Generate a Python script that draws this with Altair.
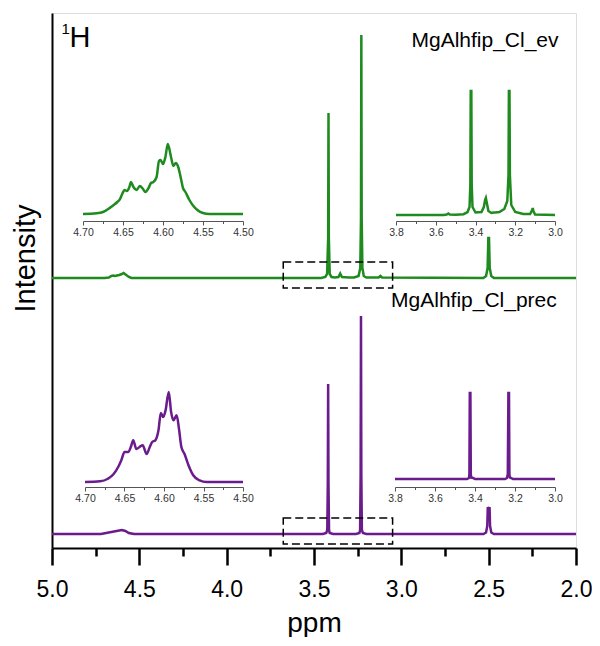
import altair as alt
import pandas as pd

GREEN = "#1f8b1f"
PURPLE = "#6a1b8c"
FONT = "Liberation Sans"

# ---------------- main spectra (intensity above own baseline) ----------------
ev_ppm = [5.0, 4.70, 4.675, 4.66, 4.65, 4.64, 4.615, 4.60, 4.59, 4.575, 4.56, 4.545,
          3.46, 3.435, 3.425, 3.419, 3.417, 3.415, 3.41, 3.40, 3.38, 3.36, 3.35, 3.34, 3.30,
          3.27, 3.245, 3.235, 3.231, 3.229, 3.227, 3.223, 3.215, 3.20, 3.13, 3.12, 3.11,
          2.53, 2.515, 2.506, 2.502, 2.498, 2.494, 2.485, 2.47, 2.0]
ev_int = [0, 0, 0.5, 2, 2.5, 2, 3, 4, 5, 3, 1, 0,
          0, 1, 4, 40, 165, 40, 4, 1, 0.5, 1, 4.5, 1, 0.5,
          0.5, 2, 10, 60, 243, 60, 10, 2, 0.5, 0.5, 2, 0.5,
          0, 2, 10, 40, 40, 10, 2, 0, 0]

prec_ppm = [5.0, 4.72, 4.69, 4.66, 4.63, 4.60, 4.58, 4.56, 4.53,
            3.45, 3.43, 3.424, 3.421, 3.419, 3.417, 3.414, 3.41, 3.39,
            3.26, 3.24, 3.236, 3.233, 3.231, 3.229, 3.226, 3.22, 3.20,
            2.53, 2.515, 2.508, 2.505, 2.500, 2.495, 2.492, 2.485, 2.47, 2.0]
prec_int = [0, 0, 1, 2, 3, 4, 3, 1, 0,
            0, 1, 4, 50, 150, 50, 4, 1, 0,
            0, 1, 4, 60, 218, 60, 4, 1, 0,
            0, 1.5, 8, 27, 20, 27, 8, 1.5, 0, 0]

# ---------------- inset: 4.70-4.50 multiplet ----------------
ev_mult_ppm = [4.700, 4.683, 4.675, 4.669, 4.662, 4.657, 4.654, 4.651, 4.648, 4.645, 4.642,
               4.640, 4.637, 4.633, 4.629, 4.625, 4.622, 4.618, 4.615, 4.612, 4.608, 4.605,
               4.603, 4.600, 4.597, 4.594, 4.590, 4.587, 4.584, 4.581, 4.578, 4.575, 4.572,
               4.567, 4.562, 4.557, 4.550, 4.542, 4.500]
ev_mult_int = [0, 0.7, 2, 4.7, 8.7, 12, 14.7, 20, 24, 23, 27,
               32, 27, 24, 28, 25, 22, 26, 31, 32, 37, 53,
               54, 50, 57, 70, 57, 48, 51, 47, 37, 26, 22,
               14, 8, 4, 1, 0, 0]

prec_mult_ppm = [4.700, 4.681, 4.671, 4.664, 4.658, 4.654, 4.650, 4.645, 4.642, 4.639, 4.635,
                 4.631, 4.627, 4.622, 4.618, 4.615, 4.611, 4.607, 4.604, 4.601, 4.598, 4.594,
                 4.591, 4.588, 4.584, 4.581, 4.578, 4.574, 4.569, 4.563, 4.555, 4.546, 4.500]
prec_mult_int = [0, 0.7, 3.3, 7.7, 15, 21.7, 30, 30, 35, 41.7, 33,
                 35, 36.7, 28, 35, 40, 41.7, 51.7, 69, 65, 71.7, 90,
                 70, 61.7, 66.7, 53, 35, 28, 16.7, 6.7, 1.7, 0, 0]

# ---------------- inset: 3.8-3.0 region ----------------
ev_zoom_ppm = [3.80, 3.56, 3.545, 3.537, 3.53, 3.50, 3.46, 3.44, 3.43, 3.426, 3.424, 3.421,
               3.419, 3.415, 3.40, 3.37, 3.358, 3.352, 3.348, 3.343, 3.335, 3.32, 3.31,
               3.30, 3.28, 3.255, 3.24, 3.234, 3.232, 3.229, 3.227, 3.22, 3.20, 3.16,
               3.125, 3.115, 3.112, 3.109, 3.10, 3.0]
ev_zoom_int = [0, 0, 0.5, 1.5, 0.5, 0.3, 0.8, 3, 8, 30, 124, 124,
               30, 8, 2.5, 3, 8, 15, 17, 12, 4, 2, 2.5,
               2.5, 3, 6, 14, 40, 124, 124, 40, 10, 3, 1,
               1, 5, 7, 4, 0.5, 0]

prec_zoom_ppm = [3.80, 3.44, 3.43, 3.428, 3.426, 3.423, 3.421, 3.419, 3.41, 3.40,
                 3.25, 3.24, 3.236, 3.233, 3.230, 3.228, 3.226, 3.22, 3.21, 3.0]
prec_zoom_int = [0, 0, 1, 5, 86, 86, 5, 1.5, 1, 0,
                 0, 1, 5, 86, 86, 5, 1.5, 1, 0, 0]

# tick values
main_ticks = [5.0, 4.75, 4.5, 4.25, 4.0, 3.75, 3.5, 3.25, 3.0, 2.75, 2.5, 2.25, 2.0]
mult_ticks = [4.70, 4.675, 4.65, 4.625, 4.60, 4.575, 4.55, 4.525, 4.50]
zoom_ticks = [3.8, 3.7, 3.6, 3.5, 3.4, 3.3, 3.2, 3.1, 3.0]

# zoom-region boxes (ppm span, intensity span relative to each baseline)
box_ppm = [3.676, 3.05]
box_int = [-10, 16]

samples = ["MgAlhfip_Cl_ev", "MgAlhfip_Cl_prec"]
baseline_expr = "datum.sample === 'MgAlhfip_Cl_ev' ? 270 : 14"

main_df = pd.concat([
    pd.DataFrame({"ppm": ev_ppm, "intensity": ev_int, "sample": samples[0]}),
    pd.DataFrame({"ppm": prec_ppm, "intensity": prec_int, "sample": samples[1]}),
])
box_df = pd.DataFrame({"sample": samples, "x1": box_ppm[0], "x2": box_ppm[1],
                       "i1": box_int[0], "i2": box_int[1]})

label_df = pd.DataFrame({"text": samples, "ppm": [2.10, 2.11], "y": [501, 241]})
nuc1_df = pd.DataFrame({"text": ["1"], "ppm": [4.945], "y": [514]})
nuc2_df = pd.DataFrame({"text": ["H"], "ppm": [4.900], "y": [501]})

major_main = "abs(datum.value*2 - round(datum.value*2)) < 0.01"

x_main = alt.Scale(domain=[5.0, 2.0], nice=False, zero=False)
y_main = alt.Scale(domain=[0, 535], nice=False, zero=False)

x_axis = alt.Axis(
    title="ppm", values=main_ticks,
    labelExpr=f"{major_main} ? format(datum.value, '.1f') : ''",
    tickSize={"condition": {"test": major_main, "value": 17}, "value": 8},
    tickWidth=2.5, tickColor="black", domainColor="black", domainWidth=2,
    labelFontSize=23, labelFont=FONT, labelColor="black", labelPadding=13,
    labelFlush=False, labelOverlap=False, grid=False,
    titleFontSize=28, titleFont=FONT, titleFontWeight="normal", titleColor="black",
    titlePadding=8,
)
y_axis = alt.Axis(
    title="Intensity", ticks=False, labels=False, grid=False,
    domainColor="black", domainWidth=2,
    titleFontSize=29, titleFont=FONT, titleFontWeight="normal", titleColor="black",
    titlePadding=12, titleY=245,
)

spectra = alt.Chart(main_df).transform_calculate(
    y=f"datum.intensity + ({baseline_expr})"
).mark_line(strokeWidth=2.5).encode(
    x=alt.X("ppm:Q", scale=x_main, axis=x_axis),
    y=alt.Y("y:Q", scale=y_main, axis=y_axis),
    color=alt.Color("sample:N", scale=alt.Scale(domain=samples, range=[GREEN, PURPLE]), legend=None),
)

boxes = alt.Chart(box_df).transform_calculate(
    y1=f"datum.i1 + ({baseline_expr})", y2=f"datum.i2 + ({baseline_expr})"
).mark_rect(fill="transparent", stroke="black", strokeWidth=1.5, strokeDash=[8, 4]).encode(
    x=alt.X("x1:Q", scale=x_main), x2="x2:Q",
    y=alt.Y("y1:Q", scale=y_main), y2="y2:Q",
)

labels = alt.Chart(label_df).mark_text(
    font=FONT, fontSize=21, align="right", baseline="alphabetic", color="black"
).encode(x=alt.X("ppm:Q", scale=x_main), y=alt.Y("y:Q", scale=y_main), text="text:N")

nuc1 = alt.Chart(nuc1_df).mark_text(
    font=FONT, fontSize=15, align="left", baseline="alphabetic", color="black"
).encode(x=alt.X("ppm:Q", scale=x_main), y=alt.Y("y:Q", scale=y_main), text="text:N")

nuc2 = alt.Chart(nuc2_df).mark_text(
    font=FONT, fontSize=29, align="left", baseline="alphabetic", color="black"
).encode(x=alt.X("ppm:Q", scale=x_main), y=alt.Y("y:Q", scale=y_main), text="text:N")

main_layer = alt.layer(spectra, boxes, labels, nuc1, nuc2)


def inset(ppm, inten, color, xdom, xrange, yrange, ticks, mult, fmt, offset, interp):
    df = pd.DataFrame({"ppm": ppm, "intensity": inten})
    major = f"abs(datum.value*{mult} - round(datum.value*{mult})) < 0.01"
    axis = alt.Axis(
        orient="bottom", offset=offset, values=ticks, title=None, grid=False,
        labelExpr=f"{major} ? format(datum.value, '{fmt}') : ''",
        tickSize={"condition": {"test": major, "value": 4}, "value": 2.5},
        tickWidth=1, tickColor="#555555", domainColor="#555555", domainWidth=1,
        labelFontSize=10.5, labelFont=FONT, labelColor="#333333", labelPadding=2,
        labelFlush=False, labelOverlap=False,
    )
    return alt.Chart(df).mark_line(color=color, strokeWidth=2.5, interpolate=interp).encode(
        x=alt.X("ppm:Q", scale=alt.Scale(domain=xdom, range=xrange, nice=False, zero=False), axis=axis),
        y=alt.Y("intensity:Q", scale=alt.Scale(domain=[0, 100], range=yrange, nice=False, zero=False), axis=None),
    )


inset1 = inset(ev_mult_ppm, ev_mult_int, GREEN, [4.70, 4.50], [31, 191], [201, 101],
               mult_ticks, 20, ".2f", -327, "monotone")
inset2 = inset(ev_zoom_ppm, ev_zoom_int, GREEN, [3.8, 3.0], [344, 503], [202, 102],
               zoom_ticks, 5, ".1f", -327, "linear")
inset3 = inset(prec_mult_ppm, prec_mult_int, PURPLE, [4.70, 4.50], [33, 191], [469, 369],
               mult_ticks, 20, ".2f", -61, "monotone")
inset4 = inset(prec_zoom_ppm, prec_zoom_int, PURPLE, [3.8, 3.0], [343, 503], [466, 366],
               zoom_ticks, 5, ".1f", -61, "linear")

chart = alt.layer(main_layer, inset1, inset2, inset3, inset4).resolve_scale(
    x="independent", y="independent"
).properties(
    width=524, height=535, autosize="none",
    padding={"left": 44, "top": 5, "right": 16, "bottom": 89},
).configure_view(stroke="black", strokeWidth=2).configure(background="white")

chart.save("out.html", embed_options={"renderer": "svg", "actions": False})
